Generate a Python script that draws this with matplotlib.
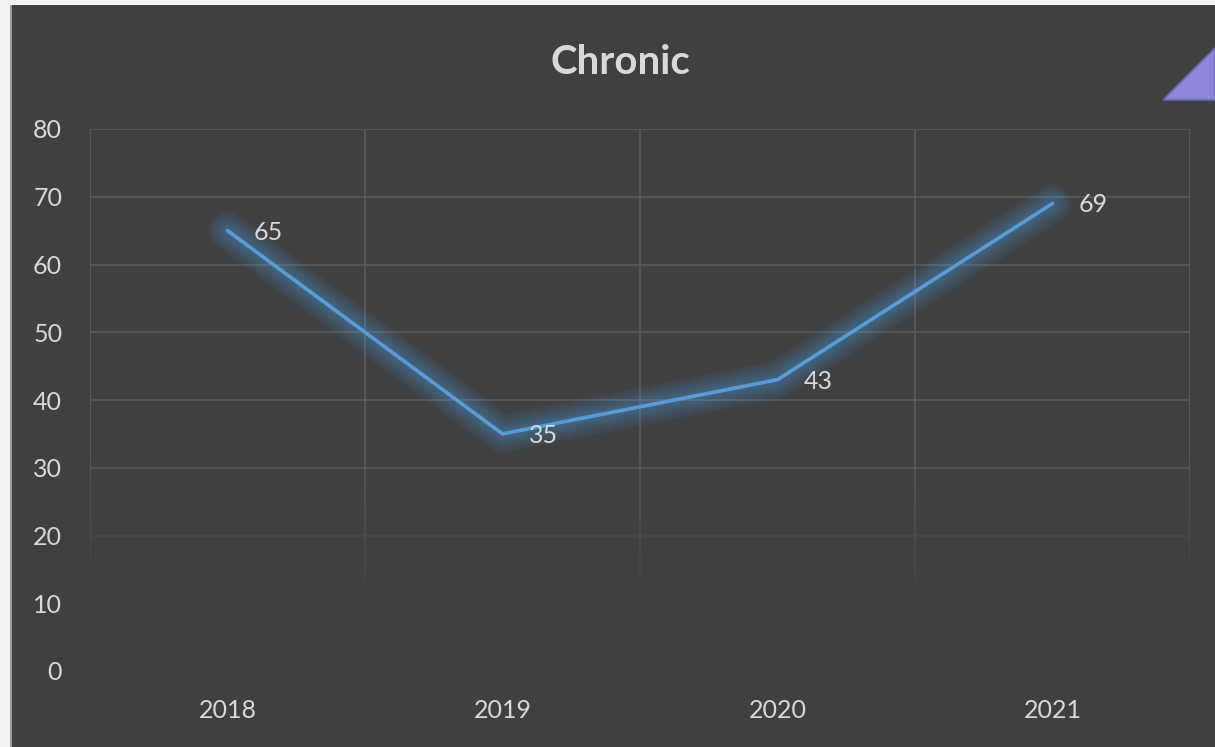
import numpy as np
import matplotlib
matplotlib.use("Agg")
import matplotlib.pyplot as plt
from matplotlib.patches import Polygon, Rectangle
from matplotlib.collections import LineCollection

# ---- data ----
categories = ["2018", "2019", "2020", "2021"]
values = [65, 35, 43, 69]
yticks = [0, 10, 20, 30, 40, 50, 60, 70, 80]
title = "Chronic"

BG = "#404040"
GRID = "#5a5a5a"
TXT = "#d9d9d9"
LINE = "#5b9bd5"

plt.rcParams['font.family'] = ['Lato', 'DejaVu Sans']

fig = plt.figure(figsize=(12.15, 7.47), dpi=100)
fig.patch.set_facecolor(BG)

# white frame strips (top and left)
fig.patches.append(Rectangle((0, 1 - 5 / 747), 1, 5 / 747, transform=fig.transFigure,
                             facecolor="#f2f2f2", edgecolor="none", zorder=10))
fig.patches.append(Rectangle((0, 0), 10 / 1215, 1, transform=fig.transFigure,
                             facecolor="#f2f2f2", edgecolor="none", zorder=10))
fig.patches.append(Rectangle((10 / 1215, 0), 1.5 / 1215, 1 - 5 / 747, transform=fig.transFigure,
                             facecolor="#9a9a9a", edgecolor="none", zorder=10))

# purple corner triangle
fig.patches.append(Polygon([(1163 / 1215, 1 - 100 / 747), (1, 1 - 100 / 747), (1, 1 - 48 / 747)],
                           closed=True, transform=fig.transFigure,
                           facecolor="#8e86d8", edgecolor="#6c64b4", linewidth=1.2, zorder=10))

ax = fig.add_axes([90 / 1215, 76 / 747, 1100 / 1215, 542 / 747])
ax.set_facecolor(BG)
x = np.arange(len(categories))
ax.set_xlim(-0.5, len(categories) - 0.5)
ax.set_ylim(0, 80)

for s in ax.spines.values():
    s.set_visible(False)

# horizontal gridlines with fading toward the bottom
for yv in yticks:
    a = 1.0 if yv >= 40 else (0.8 if yv == 30 else (0.3 if yv == 20 else 0.0))
    if a > 0:
        ax.axhline(yv, color=GRID, lw=1.2, alpha=a, zorder=1)

# vertical gridlines (category boundaries) fading toward the bottom
ys = np.linspace(0, 80, 161)
for xb in np.arange(-0.5, len(categories), 1.0):
    segs = [[(xb, ys[i]), (xb, ys[i + 1])] for i in range(len(ys) - 1)]
    mids = (ys[:-1] + ys[1:]) / 2
    alph = np.clip((mids - 10) / 22, 0, 1)
    cols = [matplotlib.colors.to_rgba(GRID, a) for a in alph]
    ax.add_collection(LineCollection(segs, colors=cols, linewidths=1.2, zorder=1))

# glow
for w in np.linspace(28, 4, 16):
    ax.plot(x, values, color=LINE, lw=w, alpha=0.035, solid_capstyle="round",
            solid_joinstyle="round", zorder=2)
ax.plot(x, values, color=LINE, lw=2.6, solid_capstyle="round",
        solid_joinstyle="miter", zorder=3)

for xi, v in zip(x, values):
    ax.annotate(str(v), (xi, v), xytext=(19, -1), textcoords="offset points",
                ha="left", va="center", color=TXT, fontsize=18, zorder=4)

ax.set_xticks(x)
ax.set_xticklabels(categories)
ax.set_yticks(yticks)
ax.tick_params(axis="both", length=0, colors=TXT, labelsize=18)
ax.tick_params(axis="y", pad=20)
ax.tick_params(axis="x", pad=20)

fig.text(620 / 1215, 1 - 62 / 747, title, ha="center", va="center",
         color=TXT, fontsize=29, fontweight="bold")

fig.savefig("out.png", dpi=100, facecolor=BG)
